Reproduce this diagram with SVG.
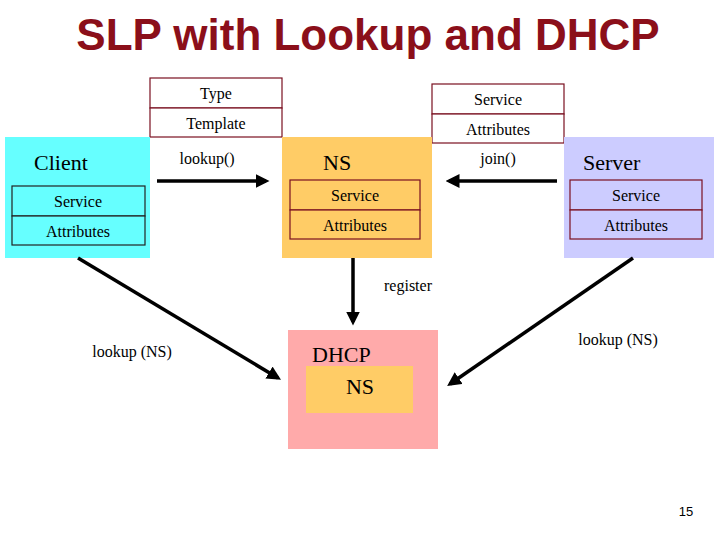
<svg xmlns="http://www.w3.org/2000/svg" width="720" height="540" viewBox="0 0 720 540">
<defs>
<style>
.t{font-family:"Liberation Serif",serif;font-size:16px;fill:#000;text-anchor:middle}
.b{font-family:"Liberation Serif",serif;font-size:22px;fill:#000}
.f{stroke:#7a1020;stroke-width:1.2}
.c line{stroke:#000;stroke-width:3.5}
</style>
<marker id="a" markerWidth="4" markerHeight="4" refX="3" refY="2" orient="auto" markerUnits="strokeWidth"><path d="M0,0L4,2L0,4z" fill="#000"/></marker>
</defs>
<rect width="720" height="540" fill="#fff"/>
<text x="368" y="50" font-family="Liberation Sans,sans-serif" font-weight="bold" font-size="44" fill="#8b0f1a" text-anchor="middle">SLP with Lookup and DHCP</text>
<g id="type"><rect x="150" y="78" width="132" height="30" fill="#fff" class="f"/><text class="t" x="216" y="99">Type</text>
<rect x="150" y="108" width="132" height="29" fill="#fff" class="f"/><text class="t" x="216" y="129">Template</text></g>
<g id="svc"><rect x="432" y="84" width="132" height="30" fill="#fff" class="f"/><text class="t" x="498" y="105">Service</text>
<rect x="432" y="114" width="132" height="29" fill="#fff" class="f"/><text class="t" x="498" y="135">Attributes</text></g>
<g id="client"><rect x="5" y="137" width="145" height="121" fill="#66ffff"/><text class="b" x="34" y="170">Client</text>
<rect x="12" y="186" width="133" height="30" fill="#66ffff" stroke="#222" stroke-width="1.2"/><text class="t" x="78" y="207">Service</text>
<rect x="12" y="216" width="133" height="29" fill="#66ffff" stroke="#222" stroke-width="1.2"/><text class="t" x="78" y="237">Attributes</text></g>
<g id="ns"><rect x="282" y="137" width="150" height="121" fill="#ffcc66"/><text class="b" x="323" y="170">NS</text>
<rect x="290" y="180" width="130" height="30" fill="#ffcc66" class="f"/><text class="t" x="355" y="201">Service</text>
<rect x="290" y="210" width="130" height="29" fill="#ffcc66" class="f"/><text class="t" x="355" y="231">Attributes</text></g>
<g id="server"><rect x="564" y="137" width="150" height="121" fill="#ccccff"/><text class="b" x="583" y="170">Server</text>
<rect x="570" y="180" width="132" height="30" fill="#ccccff" class="f"/><text class="t" x="636" y="201">Service</text>
<rect x="570" y="210" width="132" height="29" fill="#ccccff" class="f"/><text class="t" x="636" y="231">Attributes</text></g>
<g id="dhcp"><rect x="288" y="330" width="150" height="119" fill="#ffaaaa"/><text class="b" x="312" y="362">DHCP</text>
<rect x="306" y="366" width="107" height="47" fill="#ffcc66"/><text class="b" x="360" y="394" text-anchor="middle">NS</text></g>
<g class="c">
<line x1="157" y1="181" x2="266" y2="181" marker-end="url(#a)"/>
<line x1="557" y1="181" x2="449" y2="181" marker-end="url(#a)"/>
<line x1="353" y1="258" x2="353" y2="322" marker-end="url(#a)"/>
<line x1="78" y1="258" x2="278" y2="378" marker-end="url(#a)"/>
<line x1="633" y1="258" x2="450" y2="384" marker-end="url(#a)"/>
</g>
<text class="t" x="207" y="164">lookup()</text>
<text class="t" x="498" y="164">join()</text>
<text class="t" x="408" y="291">register</text>
<text class="t" x="132" y="357">lookup (NS)</text>
<text class="t" x="618" y="345">lookup (NS)</text>
<text x="686" y="516" font-family="Liberation Sans,sans-serif" font-size="13" text-anchor="middle">15</text>
</svg>
